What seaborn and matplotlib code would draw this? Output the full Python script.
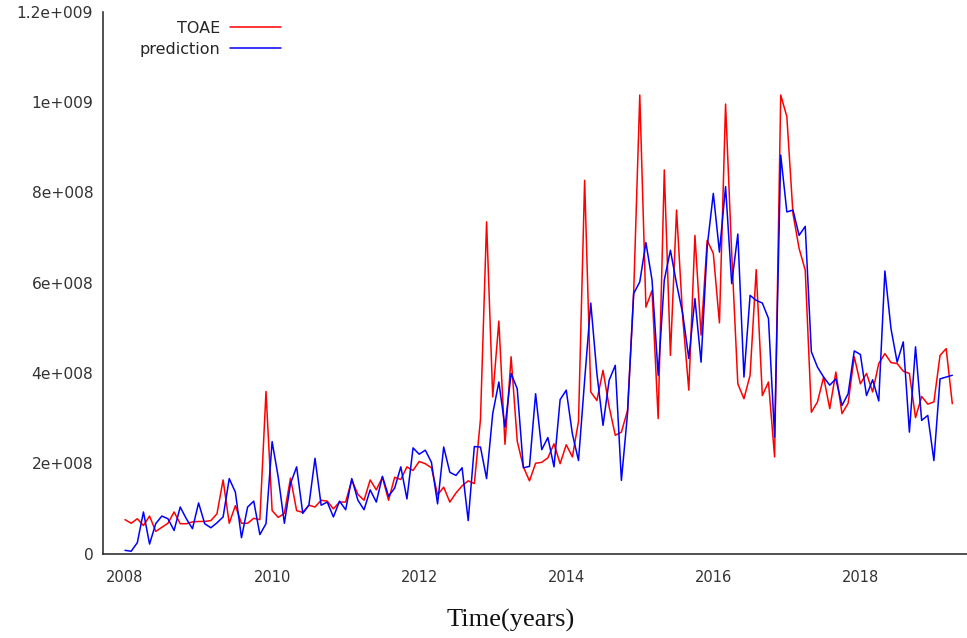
import numpy as np
import pandas as pd
import matplotlib
matplotlib.use("Agg")
import matplotlib.pyplot as plt
import seaborn as sns

# ---- data (monthly, starting Jan 2008), values in units of 1e8 ----
start_year = 2008
toae = [0.75, 0.67, 0.77, 0.62, 0.83, 0.49, 0.58, 0.67, 0.92, 0.66, 0.66, 0.70,
        0.71, 0.71, 0.73, 0.88, 1.63, 0.67, 1.06, 0.67, 0.67, 0.78, 0.75, 3.59,
        0.95, 0.80, 0.89, 1.67, 0.95, 0.91, 1.07, 1.03, 1.18, 1.16, 0.99, 1.14,
        1.14, 1.63, 1.31, 1.18, 1.63, 1.41, 1.69, 1.18, 1.69, 1.64, 1.92, 1.84,
        2.04, 1.99, 1.90, 1.30, 1.47, 1.14, 1.34, 1.50, 1.61, 1.55, 2.97, 7.35,
        3.47, 5.15, 2.42, 4.36, 2.49, 1.92, 1.61, 2.00, 2.02, 2.12, 2.43, 1.99,
        2.41, 2.14, 2.93, 8.27, 3.58, 3.39, 4.06, 3.25, 2.62, 2.69, 3.17, 5.76,
        10.16, 5.46, 5.83, 2.99, 8.50, 4.39, 7.61, 5.24, 3.62, 7.05, 4.84, 6.94,
        6.65, 5.11, 9.96, 6.65, 3.76, 3.43, 3.95, 6.29, 3.50, 3.80, 2.14, 10.16,
        9.68, 7.53, 6.76, 6.28, 3.13, 3.36, 3.91, 3.21, 4.02, 3.10, 3.33, 4.36,
        3.76, 3.99, 3.58, 4.21, 4.43, 4.23, 4.21, 4.04, 3.99, 3.01, 3.48, 3.31,
        3.36, 4.39, 4.54, 3.32]
prediction = [0.07, 0.05, 0.24, 0.92, 0.21, 0.66, 0.83, 0.77, 0.51, 1.03, 0.77, 0.55,
              1.12, 0.66, 0.57, 0.68, 0.81, 1.66, 1.36, 0.35, 1.03, 1.16, 0.42, 0.66,
              2.48, 1.69, 0.67, 1.55, 1.92, 0.89, 1.07, 2.11, 1.07, 1.14, 0.81, 1.16,
              0.97, 1.66, 1.18, 0.97, 1.41, 1.14, 1.71, 1.27, 1.45, 1.92, 1.21, 2.34,
              2.20, 2.29, 2.02, 1.10, 2.36, 1.80, 1.73, 1.90, 0.73, 2.37, 2.36, 1.66,
              3.10, 3.80, 2.80, 3.99, 3.65, 1.90, 1.93, 3.54, 2.30, 2.57, 1.92, 3.41,
              3.62, 2.65, 2.06, 3.84, 5.55, 3.99, 2.84, 3.84, 4.17, 1.62, 3.10, 5.76,
              6.02, 6.89, 6.06, 3.95, 6.06, 6.72, 5.98, 5.32, 4.32, 5.65, 4.24, 6.80,
              7.98, 6.68, 8.13, 5.98, 7.08, 3.91, 5.72, 5.61, 5.55, 5.21, 2.58, 8.83,
              7.57, 7.61, 7.05, 7.25, 4.47, 4.13, 3.91, 3.73, 3.87, 3.28, 3.54, 4.49,
              4.41, 3.50, 3.85, 3.38, 6.26, 4.98, 4.24, 4.69, 2.69, 4.58, 2.95, 3.06,
              2.06, 3.87, 3.91, 3.95]
x_ticks = [2008, 2010, 2012, 2014, 2016, 2018]
x_tick_labels = ["2008", "2010", "2012", "2014", "2016", "2018"]
y_ticks = [0, 2e8, 4e8, 6e8, 8e8, 1e9, 1.2e9]
y_tick_labels = ["0", "2e+008", "4e+008", "6e+008", "8e+008", "1e+009", "1.2e+009"]
series_names = ["TOAE", "prediction"]
x_label = "Time(years)"

time = start_year + np.arange(len(toae)) / 12.0
df = pd.DataFrame({
    "time": np.concatenate([time, time]),
    "value": np.concatenate([np.array(toae), np.array(prediction)]) * 1e8,
    "series": [series_names[0]] * len(toae) + [series_names[1]] * len(prediction),
})

sns.set_style("white")
plt.rcParams["font.family"] = ["DejaVu Sans"]

W, H = 967, 638
fig = plt.figure(figsize=(W / 100, H / 100), dpi=100)
ax = fig.add_axes([103 / W, 1 - 553.5 / H, 1 - 103 / W, (553.5 - 12) / H])

sns.lineplot(data=df, x="time", y="value", hue="series",
             palette={"TOAE": "#ff0000", "prediction": "#0000ff"},
             linewidth=1.1, ax=ax)

ax.set_xlim(2007.70, 2019.45)
ax.set_ylim(0, 1.2e9)
ax.set_xticks(x_ticks)
ax.set_xticklabels(x_tick_labels)
ax.set_yticks(y_ticks)
ax.set_yticklabels(y_tick_labels)
ax.set_xlabel("")
ax.set_ylabel("")

for side in ["top", "right"]:
    ax.spines[side].set_visible(False)
for side in ["left", "bottom"]:
    ax.spines[side].set_color("#222222")
    ax.spines[side].set_linewidth(1.1)

ax.tick_params(axis="both", direction="in", length=6, width=1.0, color="#222222",
               labelcolor="#333333")
ax.tick_params(axis="x", pad=12, labelsize=10.5)
ax.tick_params(axis="y", pad=7, labelsize=11.2)

handles, labels = ax.get_legend_handles_labels()
ax.legend(handles, labels, loc="upper right",
          bbox_to_anchor=(281 / W, 1 - 21 / H), bbox_transform=fig.transFigure,
          frameon=False, markerfirst=False, handlelength=3.2, handletextpad=0.6,
          labelspacing=0.38, borderpad=0, borderaxespad=0, fontsize=11.5)

fig.text(511 / W, 1 - 620 / H, x_label, ha="center", va="center",
         family="Liberation Serif", size=19, color="#111111")

fig.savefig("out.png", dpi=100)
